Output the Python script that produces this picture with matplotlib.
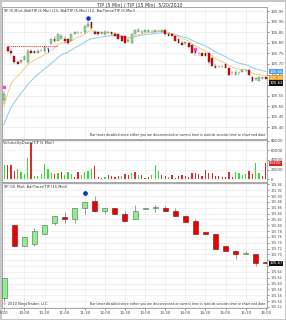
import numpy as np
import pandas as pd
import matplotlib.pyplot as plt

# 5 minute bars, 9:30 .. 16:00
times5 = pd.date_range('2010-05-20 09:30', '2010-05-20 16:00', freq='5min')
open5 = [105.53, 105.78, 105.76, 105.74, 105.71, 105.71, 105.72, 105.71, 105.76, 105.76,
         105.75, 105.76, 105.76, 105.77, 105.80, 105.82, 105.81, 105.82, 105.82, 105.82,
         105.81, 105.84, 105.85, 105.85, 105.85, 105.88, 105.90, 105.85, 105.85, 105.84,
         105.84, 105.85, 105.85, 105.84, 105.84, 105.83, 105.83, 105.81, 105.80, 105.84,
         105.85, 105.85, 105.85, 105.85, 105.85, 105.85, 105.86, 105.85, 105.86, 105.84,
         105.84, 105.83, 105.82, 105.80, 105.80, 105.80, 105.79, 105.76, 105.75, 105.75,
         105.75, 105.75, 105.73, 105.69, 105.69, 105.69, 105.70, 105.68, 105.66, 105.65,
         105.66, 105.66, 105.67, 105.67, 105.64, 105.63, 105.62, 105.63, 105.64]
high5 = [105.57, 105.79, 105.77, 105.74, 105.72, 105.72, 105.74, 105.77, 105.77, 105.76,
         105.77, 105.77, 105.79, 105.78, 105.82, 105.83, 105.84, 105.84, 105.83, 105.82,
         105.84, 105.85, 105.85, 105.85, 105.88, 105.91, 105.90, 105.86, 105.85, 105.85,
         105.86, 105.85, 105.85, 105.85, 105.84, 105.83, 105.83, 105.82, 105.84, 105.86,
         105.87, 105.86, 105.86, 105.86, 105.86, 105.86, 105.86, 105.86, 105.86, 105.85,
         105.84, 105.83, 105.82, 105.81, 105.80, 105.80, 105.79, 105.77, 105.75, 105.75,
         105.75, 105.75, 105.73, 105.70, 105.69, 105.69, 105.70, 105.68, 105.66, 105.67,
         105.66, 105.67, 105.67, 105.67, 105.64, 105.63, 105.64, 105.64, 105.64]
low5 = [105.51, 105.75, 105.74, 105.70, 105.70, 105.70, 105.72, 105.70, 105.75, 105.75,
        105.75, 105.76, 105.75, 105.77, 105.79, 105.80, 105.81, 105.82, 105.80, 105.79,
        105.81, 105.84, 105.84, 105.84, 105.84, 105.87, 105.86, 105.84, 105.83, 105.84,
        105.83, 105.84, 105.83, 105.83, 105.82, 105.81, 105.80, 105.80, 105.80, 105.84,
        105.85, 105.84, 105.85, 105.85, 105.85, 105.85, 105.85, 105.85, 105.83, 105.83,
        105.83, 105.81, 105.80, 105.79, 105.79, 105.78, 105.75, 105.74, 105.74, 105.74,
        105.74, 105.70, 105.69, 105.68, 105.68, 105.68, 105.68, 105.65, 105.65, 105.65,
        105.65, 105.66, 105.66, 105.65, 105.61, 105.62, 105.62, 105.63, 105.63]
close5 = [105.56, 105.76, 105.75, 105.71, 105.70, 105.72, 105.74, 105.76, 105.75, 105.75,
          105.76, 105.76, 105.78, 105.77, 105.82, 105.81, 105.84, 105.83, 105.81, 105.80,
          105.84, 105.85, 105.85, 105.85, 105.88, 105.89, 105.87, 105.84, 105.84, 105.85,
          105.85, 105.85, 105.84, 105.83, 105.82, 105.81, 105.80, 105.81, 105.84, 105.86,
          105.86, 105.85, 105.86, 105.86, 105.85, 105.86, 105.86, 105.86, 105.84, 105.83,
          105.83, 105.81, 105.80, 105.79, 105.80, 105.78, 105.75, 105.75, 105.75, 105.74,
          105.74, 105.71, 105.69, 105.68, 105.69, 105.69, 105.68, 105.65, 105.66, 105.66,
          105.66, 105.67, 105.67, 105.65, 105.62, 105.63, 105.64, 105.64, 105.63]
volume5 = [29800, 29800, 29800, 17000, 20600, 15600, 10600, 44000, 76000, 6400,
           6400, 10600, 31900, 21300, 12000, 10600, 13500, 15600, 8500, 15600,
           10600, 5000, 14200, 8500, 15600, 17700, 20600, 27700, 5000, 2100,
           3500, 8500, 6400, 5000, 6400, 6400, 10600, 9000, 13500, 15600,
           8500, 8500, 2800, 3500, 8500, 29800, 17000, 8500, 6400, 3500,
           8500, 2800, 6400, 8500, 6400, 3500, 12000, 12000, 10600, 6400,
           19100, 13500, 12000, 6400, 6400, 5000, 5000, 14200, 5000, 15600,
           13500, 8500, 10600, 17700, 10600, 34700, 12000, 6400, 33300]
volume_dir = ("GRRRGGGGRG" "GGGGGRGRGG" "GRRGGGGRRR" "GRRRRGRRGR" "GR"
              "RRGGGRRGRR" "RRRRRRRRRR" "RRRRRRRGGG" "GRRGGRR")

# 15 minute bars
times15 = pd.date_range('2010-05-20 09:30', '2010-05-20 16:00', freq='15min')
open15 = [105.55, 105.80, 105.73, 105.735, 105.77, 105.806, 105.827, 105.822, 105.86, 105.883,
          105.85, 105.86, 105.84, 105.82, 105.855, 105.86, 105.86, 105.85, 105.83, 105.815,
          105.775, 105.77, 105.73, 105.71, 105.70, 105.70, 105.675]
high15 = [105.62, 105.80, 105.76, 105.79, 105.80, 105.83, 105.845, 105.86, 105.88, 105.90,
          105.86, 105.86, 105.85, 105.87, 105.86, 105.87, 105.865, 105.86, 105.83, 105.82,
          105.775, 105.77, 105.73, 105.71, 105.71, 105.70, 105.675]
low15 = [105.54, 105.73, 105.73, 105.73, 105.77, 105.80, 105.806, 105.806, 105.84, 105.845,
         105.84, 105.84, 105.815, 105.82, 105.855, 105.845, 105.85, 105.83, 105.81, 105.77,
         105.77, 105.72, 105.71, 105.685, 105.70, 105.66, 105.67]
close15 = [105.62, 105.73, 105.76, 105.78, 105.80, 105.83, 105.82, 105.86, 105.88, 105.85,
           105.86, 105.84, 105.815, 105.85, 105.86, 105.861, 105.85, 105.83, 105.81, 105.77,
           105.77, 105.72, 105.71, 105.70, 105.705, 105.67, 105.67]

# indicator settings / markers
fast_period, fast_seed = 8, 105.49
slow_period, slow_seed = 16, 105.40
range_level, range_start, range_end = 105.785, 5, 80   # minutes after 9:30
dot_top = (125, 105.915)     # blue dot above the high bar (top panel)
dot_bottom = (120, 105.911)  # blue dot (15 min panel)
tick_blue = (65, 105.765)
mark_pink = [(0, 105.59), (285, 105.77)]

xtick_labels = ['5/20', '10:00', '10:30', '11:00', '11:30', '12:00', '12:30',
                '13:00', '13:30', '14:00', '14:30', '15:00', '15:30', '16:00']
top_ticks = [105.40, 105.45, 105.50, 105.55, 105.60, 105.65, 105.70, 105.75, 105.80, 105.85, 105.90, 105.95]
bottom_ticks = [105.52 + 0.02 * k for k in range(22)]
vol_ticks = [0, 20000, 40000, 60000, 80000]

title = 'TIP (5 Min) / TIP (15 Min)  5/20/2010'
top_label = 'TIP (5 Min), Bid(TIP (5 Min) (1)), Bid(TIP (5 Min) (1)), BarTimer(TIP (5 Min))'
vol_label = 'VolumeUpDown(TIP (5 Min))'
bot_label = 'TIP (15 Min), BarTimer(TIP (15 Min))'
timer_note = 'Bar timer disabled since either you are disconnected or current time is outside session time or chart end date'
copyright_note = '\u00a9 2010 NinjaTrader, LLC'


def minutes(t):
    return (t - t[0]).total_seconds().values / 60.0


def ema(values, period, seed):
    a = 2.0 / (period + 1)
    out, prev = [seed], seed
    for v in values:
        prev = prev + a * (v - prev)
        out.append(prev)
    return np.array(out)


def candles(ax, x, o, h, l, c, width, lw):
    o, h, l, c = map(np.asarray, (o, h, l, c))
    ax.vlines(x, l, h, color='#555555', lw=lw, zorder=2)
    up = c >= o
    bottom = np.minimum(o, c)
    height = np.maximum(np.abs(c - o), 0.0015)
    ax.bar(x[up], height[up], width, bottom=bottom[up], color='#90ee90',
           edgecolor='#4d6b4d', lw=lw, zorder=3)
    ax.bar(x[~up], height[~up], width, bottom=bottom[~up], color='#ee0000',
           edgecolor='#5a1a1a', lw=lw, zorder=3)


def price_labels(ticks, boxes, gap, fmt='%.2f'):
    # labels hidden behind a value box are left empty
    return ['' if any(abs(t - b) < gap for b in boxes) else fmt % t for t in ticks]


def value_box(ax, y, text, fc, tc='white'):
    ax.annotate(text, xy=(1.0, y), xycoords=('axes fraction', 'data'),
                xytext=(1.5, 0), textcoords='offset points', fontsize=2.8,
                color=tc, va='center', ha='left',
                bbox=dict(boxstyle='square,pad=0.15', fc=fc, ec='none'), zorder=10)


x5 = minutes(times5)
x15 = minutes(times15)
xticks = np.arange(0, 391, 30)

fig = plt.figure(figsize=(2.86, 3.2), dpi=100)
fig.patch.set_edgecolor('#c8c8c8')
fig.patch.set_linewidth(1.0)
L, W = 0.008, 0.926
ax1 = fig.add_axes([L, 0.566, W, 0.412])
ax2 = fig.add_axes([L, 0.431, W, 0.133])
ax3 = fig.add_axes([L, 0.0375, W, 0.391])

for ax in (ax1, ax2, ax3):
    ax.set_xlim(-3, 392)
    ax.set_xticks(xticks)
    ax.yaxis.tick_right()
    ax.grid(True, color='#ebebeb', lw=0.5)
    ax.set_axisbelow(True)
    ax.tick_params(labelsize=2.8, length=1.5, width=0.4, colors='#444444', pad=1)
    for s in ax.spines.values():
        s.set_color('#9a9a9a')
        s.set_linewidth(0.6)
ax1.tick_params(axis='x', labelbottom=False, length=0)
ax2.tick_params(axis='x', labelbottom=False, length=0)
ax3.set_xticklabels(xtick_labels)

# top panel
xs = np.concatenate([[x5[0] - 5], x5])
slow = ema(close5, slow_period, slow_seed)
fast = ema(close5, fast_period, fast_seed)
ax1.set_ylim(105.346, 105.969)
ax1.set_yticks(top_ticks)
ax1.set_yticklabels(price_labels(top_ticks, [slow[-1], close5[-1] - 0.02], 0.012))
ax1.plot(xs, slow, color='#8ccbec', lw=0.7, zorder=1.5)
ax1.plot(xs, fast, color='#f5c98a', lw=0.7, zorder=1.6)
candles(ax1, x5, open5, high5, low5, close5, 2.6, 0.3)
ax1.hlines(range_level, range_start, range_end, color='#e03030', lw=0.6,
           linestyles=(0, (1.5, 1)), zorder=4)
ax1.plot(*dot_top, 'o', color='#1030d0', ms=2.2, zorder=5)
ax1.plot(*tick_blue, '|', color='#1030d0', ms=3.5, mew=0.8, zorder=5)
for px, py in mark_pink:
    ax1.plot(px, py, 's', color='#ff44dd', ms=1.6, zorder=5)
value_box(ax1, slow[-1], '%.2f' % slow[-1], '#4aa0f0')
value_box(ax1, fast[-1] - 0.008, '%.2f' % fast[-1], '#f0a020')
value_box(ax1, close5[-1] - 0.02, '%.2f' % close5[-1], '#111111')
ax1.text(0.004, 0.985, top_label, transform=ax1.transAxes, fontsize=2.6,
         va='top', ha='left', color='#333333')
ax1.text(0.995, 0.015, timer_note, transform=ax1.transAxes, fontsize=2.3,
         va='bottom', ha='right', color='#333333')

# volume panel
ax2.set_ylim(-6400, 83000)
ax2.set_yticks(vol_ticks)
ax2.set_yticklabels(price_labels(vol_ticks, [volume5[-1]], 6000, '%d'))
vcol = ['#33dd33' if d == 'G' else '#dd2a2a' for d in volume_dir]
ax2.bar(x5, volume5, 1.9, color=vcol, zorder=3)
value_box(ax2, volume5[-1], str(volume5[-1]), '#dd2020')
ax2.text(0.004, 0.96, vol_label, transform=ax2.transAxes, fontsize=2.6,
         va='top', ha='left', color='#333333')

# 15 minute panel
ax3.set_ylim(105.516, 105.945)
ax3.set_yticks(bottom_ticks)
ax3.set_yticklabels(price_labels(bottom_ticks, [close15[-1]], 0.012), fontsize=2.4)
candles(ax3, x15, open15, high15, low15, close15, 7.5, 0.4)
ax3.plot(*dot_bottom, 'o', color='#1030d0', ms=2.4, zorder=5)
value_box(ax3, close15[-1], '%.2f' % close15[-1], '#111111')
ax3.text(0.004, 0.985, bot_label, transform=ax3.transAxes, fontsize=2.6,
         va='top', ha='left', color='#333333')
ax3.text(0.995, 0.015, timer_note, transform=ax3.transAxes, fontsize=2.3,
         va='bottom', ha='right', color='#333333')
ax3.text(0.004, 0.015, copyright_note, transform=ax3.transAxes, fontsize=2.6,
         va='bottom', ha='left', color='#333333')

fig.text(0.49, 0.992, title, fontsize=3.4, ha='center', va='top', color='#333333')

fig.savefig('out.png', dpi=100)
